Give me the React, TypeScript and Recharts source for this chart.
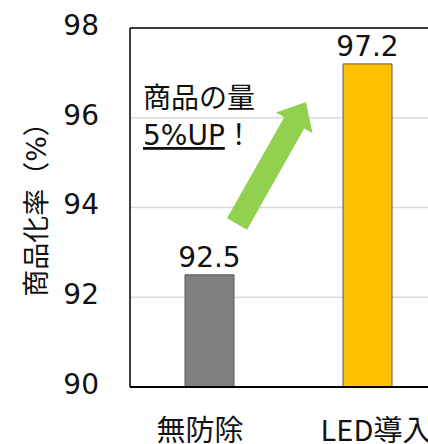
import { BarChart, Bar, XAxis, YAxis, CartesianGrid, Cell, LabelList, ReferenceLine, Customized, Text } from "recharts";

const categories = ["無防除", "LED導入"];
const rates = [92.5, 97.2];
const barColors = ["#7f7f7f", "#ffc000"];
const yTicks = [90, 92, 94, 96, 98];
const yLabel = "商品化率（%）";
const noteLines = ["商品の量", "5%UP", "！"];

const FONT = '"DejaVu Sans", "Noto Sans CJK JP", sans-serif';
const CJK_FONT = '"Noto Sans CJK JP", sans-serif';
const TEXT = "#111";
// category labels sit a little off the bar centres in the original
const tickShift = [-9, 9];

const data = categories.map((name, i) => ({ name, rate: rates[i] }));

function CategoryTick(props: any) {
  const { x, y, payload, index } = props;
  return (
    <Text
      x={x + (tickShift[index] || 0)}
      y={y}
      textAnchor="middle"
      verticalAnchor="start"
      fontSize={29}
      fontFamily={CJK_FONT}
      fill={TEXT}
    >
      {payload.value}
    </Text>
  );
}

// green arrow + note drawn over the plot
function Annotation() {
  const arrow = [
    [227, 218.3],
    [284.2, 117.2],
    [275.9, 112.5],
    [306, 102],
    [312.5, 133.2],
    [304.2, 128.6],
    [247, 229.7],
  ]
    .map((p) => p.join(","))
    .join(" ");
  return (
    <g>
      <polygon points={arrow} fill="#92d050" />
      <text x={143} y={108} fontSize={28} fontFamily={FONT} fill={TEXT}>
        {noteLines[0]}
      </text>
      <text x={143} y={145} fontSize={28} fontFamily={FONT} fill={TEXT}>
        <tspan textDecoration="underline">{noteLines[1]}</tspan>
        <tspan>{noteLines[2]}</tspan>
      </text>
    </g>
  );
}

function YTitle() {
  return (
    <text
      x={36}
      y={203}
      transform="rotate(-90, 36, 203)"
      textAnchor="middle"
      dominantBaseline="central"
      fontSize={27}
      fontFamily={FONT}
      fill={TEXT}
    >
      {yLabel}
    </text>
  );
}

export default function App() {
  return (
    <div
      style={{
        position: "absolute",
        left: 0,
        top: 0,
        width: 428,
        height: 444,
        overflow: "hidden",
        background: "#fff",
      }}
    >
      <BarChart
        width={460}
        height={444}
        data={data}
        margin={{ top: 28, right: 14, bottom: 0, left: 0 }}
        barCategoryGap={0}
      >
        <CartesianGrid vertical={false} stroke="#d9d9d9" strokeWidth={1.5} />
        <XAxis
          dataKey="name"
          height={57}
          tickSize={0}
          tickMargin={33}
          axisLine={{ stroke: "#000", strokeWidth: 2 }}
          tick={<CategoryTick />}
        />
        <YAxis
          type="number"
          domain={[90, 98]}
          ticks={yTicks}
          width={130}
          tickSize={0}
          tickMargin={31}
          axisLine={{ stroke: "#000", strokeWidth: 1.5 }}
          tick={{ fontSize: 28, fontFamily: FONT, fill: TEXT, dy: -3 }}
        />
        <ReferenceLine y={98} stroke="#000" strokeWidth={1.5} />
        <Bar dataKey="rate" barSize={49} stroke="#595959" strokeWidth={1} isAnimationActive={false}>
          {data.map((d, i) => (
            <Cell key={d.name} fill={barColors[i]} />
          ))}
          <LabelList
            dataKey="rate"
            position="top"
            offset={8}
            style={{ fontSize: 28, fontFamily: FONT, fill: TEXT }}
          />
        </Bar>
        <Customized component={Annotation} />
        <Customized component={YTitle} />
      </BarChart>
    </div>
  );
}
